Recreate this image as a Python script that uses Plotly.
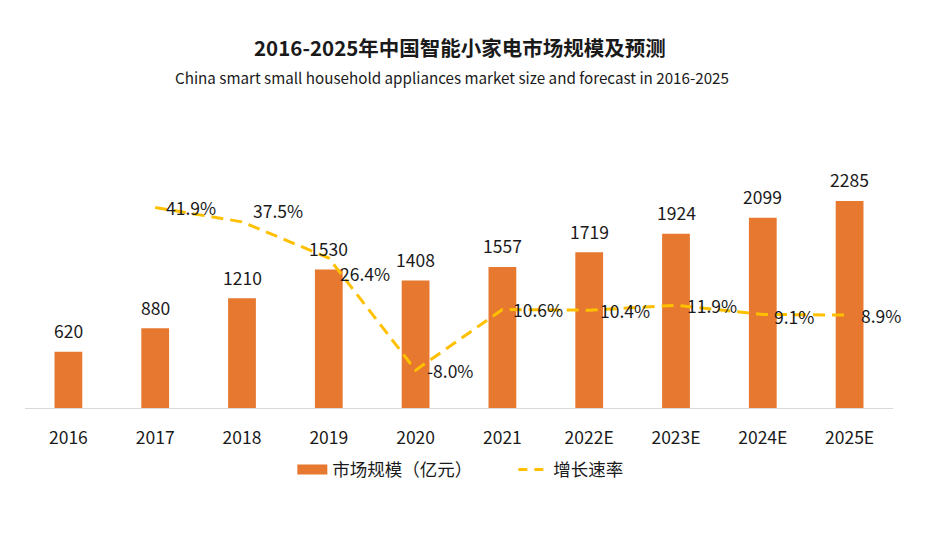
import plotly.graph_objects as go

categories = ["2016", "2017", "2018", "2019", "2020", "2021", "2022E", "2023E", "2024E", "2025E"]
market_size = [620, 880, 1210, 1530, 1408, 1557, 1719, 1924, 2099, 2285]
growth_years = ["2017", "2018", "2019", "2020", "2021", "2022E", "2023E", "2024E", "2025E"]
growth_rate = [41.9, 37.5, 26.4, -8.0, 10.6, 10.4, 11.9, 9.1, 8.9]
# vertical nudge (px) of each growth label relative to its point
growth_label_shift = [0, 11, -15, 0, 0, 0, 0, -2, 0]

FONT = "Noto Sans CJK SC"
BAR_COLOR = "#E6782F"
LINE_COLOR = "#FFC000"
TEXT = "#1a1a1a"

fig = go.Figure()
fig.add_trace(go.Bar(
    x=categories, y=market_size, name="市场规模（亿元）", showlegend=False,
    marker=dict(color=BAR_COLOR, line=dict(width=0)),
))
fig.add_trace(go.Scatter(
    x=growth_years, y=growth_rate, name="增长速率", yaxis="y2", showlegend=False,
    mode="lines", line=dict(color=LINE_COLOR, width=3, dash="12px,7px"),
))
# legend entries (wide rectangle swatch for bars, dashed line for growth)
fig.add_trace(go.Scatter(
    x=[None], y=[None], name="市场规模（亿元）", mode="lines",
    line=dict(color=BAR_COLOR, width=12), showlegend=True,
))
fig.add_trace(go.Scatter(
    x=[None], y=[None], name="增长速率", mode="lines",
    line=dict(color=LINE_COLOR, width=3, dash="9px,7px"), showlegend=True,
))

annotations = [
    dict(text="<b>2016-2025年中国智能小家电市场规模及预测</b>", xref="paper", yref="paper",
         x=0.501, y=1.347, xanchor="center", yanchor="middle", showarrow=False,
         font=dict(size=20.5, family=FONT, color=TEXT)),
    dict(text="China smart small household appliances market size and forecast in 2016-2025",
         xref="paper", yref="paper", x=0.492, y=1.235, xanchor="center", yanchor="middle",
         showarrow=False, font=dict(size=15.2, family=FONT, color=TEXT)),
]
for c, v in zip(categories, market_size):
    annotations.append(dict(
        text=str(v), x=categories.index(c), y=v, xref="x", yref="y",
        xanchor="center", yanchor="middle",
        yshift=21, showarrow=False, font=dict(size=17.5, family=FONT, color=TEXT)))
for c, g, s in zip(growth_years, growth_rate, growth_label_shift):
    annotations.append(dict(
        text=f"{g:.1f}%", x=categories.index(c), y=g, xref="x", yref="y2",
        xanchor="left", yanchor="middle",
        xshift=9, yshift=s, showarrow=False, font=dict(size=17.5, family=FONT, color=TEXT)))

fig.update_layout(
    width=944, height=538,
    margin=dict(l=25, r=51, t=140, b=130),
    paper_bgcolor="white", plot_bgcolor="white",
    font=dict(family=FONT, color=TEXT),
    bargap=0.68,
    showlegend=True,
    legend=dict(orientation="h", x=0.308, xanchor="left", y=-0.23, yanchor="middle",
                font=dict(size=17.5, family=FONT, color=TEXT),
                entrywidth=176, tracegroupgap=0),
    xaxis=dict(type="category", categoryorder="array", categoryarray=categories,
               range=[-0.5, 9.5], showline=True, linecolor="#D9D9D9",
               linewidth=1, ticks="outside", ticklen=14, tickcolor="rgba(0,0,0,0)",
               showgrid=False, tickfont=dict(size=17.5, family=FONT, color=TEXT)),
    yaxis=dict(range=[0, 2958], visible=False, showgrid=False, zeroline=False),
    yaxis2=dict(range=[-19.6, 62.6], overlaying="y", visible=False, showgrid=False,
                zeroline=False),
    annotations=annotations,
)

fig.write_html("out.html")
